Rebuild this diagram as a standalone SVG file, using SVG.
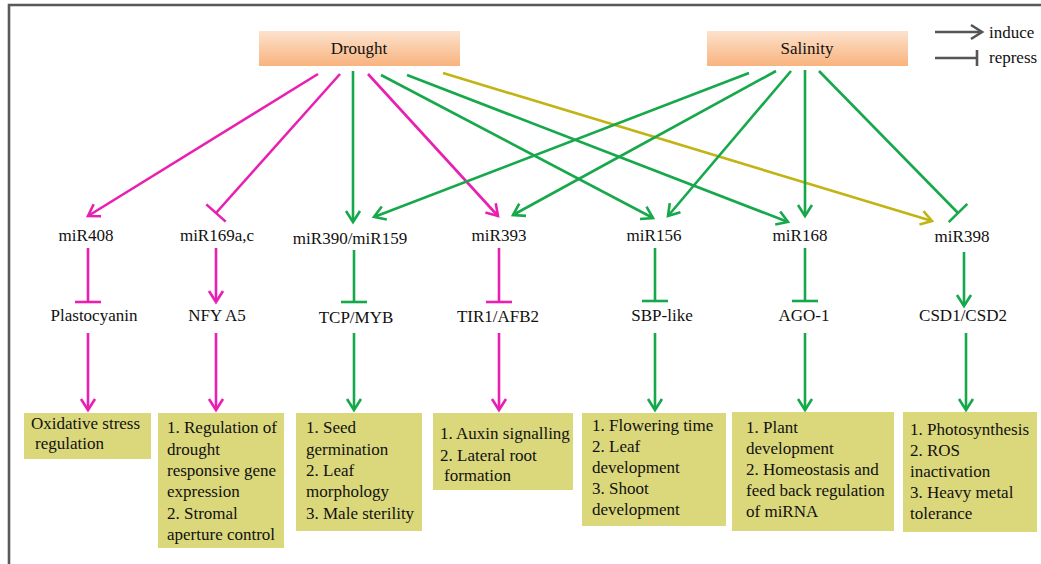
<svg xmlns="http://www.w3.org/2000/svg" width="1041" height="564" viewBox="0 0 1041 564">
<style>
text{font-family:"Liberation Serif","Times New Roman",serif;font-size:17px;fill:#111}
.lbl{text-anchor:middle}
.box{fill:#dbd87c}
.src{fill:url(#og)}
.mg{stroke:#e91fb2;stroke-width:2.6;fill:none}
.gr{stroke:#17a84b;stroke-width:2.6;fill:none}
.ol{stroke:#c1b414;stroke-width:2.6;fill:none}
.lg{stroke:#555;stroke-width:2.6;fill:none}
</style>
<defs>
<linearGradient id="og" x1="0" y1="0" x2="0" y2="1">
<stop offset="0" stop-color="#fde2cd"/>
<stop offset="1" stop-color="#f8b37e"/>
</linearGradient>
<marker id="amg" markerUnits="userSpaceOnUse" markerWidth="30" markerHeight="30" viewBox="-15 -15 30 30" refX="0" refY="0" orient="auto"><path d="M-11,-7 L0,0 L-11,7" fill="none" stroke="#e91fb2" stroke-width="2.6"/></marker>
<marker id="agr" markerUnits="userSpaceOnUse" markerWidth="30" markerHeight="30" viewBox="-15 -15 30 30" refX="0" refY="0" orient="auto"><path d="M-11,-7 L0,0 L-11,7" fill="none" stroke="#17a84b" stroke-width="2.6"/></marker>
<marker id="aol" markerUnits="userSpaceOnUse" markerWidth="30" markerHeight="30" viewBox="-15 -15 30 30" refX="0" refY="0" orient="auto"><path d="M-11,-7 L0,0 L-11,7" fill="none" stroke="#c1b414" stroke-width="2.6"/></marker>
<marker id="alg" markerUnits="userSpaceOnUse" markerWidth="30" markerHeight="30" viewBox="-15 -15 30 30" refX="0" refY="0" orient="auto"><path d="M-11,-7 L0,0 L-11,7" fill="none" stroke="#555" stroke-width="2.6"/></marker>
<marker id="bmg" markerUnits="userSpaceOnUse" markerWidth="30" markerHeight="30" viewBox="-15 -15 30 30" refX="0" refY="0" orient="auto"><path d="M0,-13 L0,13" stroke="#e91fb2" stroke-width="2.6"/></marker>
<marker id="bgr" markerUnits="userSpaceOnUse" markerWidth="30" markerHeight="30" viewBox="-15 -15 30 30" refX="0" refY="0" orient="auto"><path d="M0,-13 L0,13" stroke="#17a84b" stroke-width="2.6"/></marker>
<marker id="blg" markerUnits="userSpaceOnUse" markerWidth="30" markerHeight="30" viewBox="-15 -15 30 30" refX="0" refY="0" orient="auto"><path d="M0,-8 L0,8" stroke="#555" stroke-width="2.6"/></marker>
</defs>
<rect width="1041" height="564" fill="#fff"/>
<path d="M9,564 L9,5 L1041,5" fill="none" stroke="#595959" stroke-width="2.6"/>

<g id="legend">
<path class="lg" d="M935,32 L982,32" marker-end="url(#alg)"/>
<path class="lg" d="M935,58 L977,58" marker-end="url(#blg)"/>
<text x="989" y="38">induce</text>
<text x="989" y="63">repress</text>
</g>

<g id="connectors">
<path class="mg" d="M318,74 L88,216" marker-end="url(#amg)"/>
<path class="mg" d="M340,74 L216,213" marker-end="url(#bmg)"/>
<path class="gr" d="M353,71 L353,222" marker-end="url(#agr)"/>
<path class="mg" d="M368,74 L498,216" marker-end="url(#amg)"/>
<path class="gr" d="M381,75 L653,218" marker-end="url(#agr)"/>
<path class="gr" d="M407,75 L788,222" marker-end="url(#agr)"/>
<path class="ol" d="M443,73 L932,221" marker-end="url(#aol)"/>
<path class="gr" d="M749,73 L374,217" marker-end="url(#agr)"/>
<path class="gr" d="M776,71 L513,215" marker-end="url(#agr)"/>
<path class="gr" d="M791,71 L668,216" marker-end="url(#agr)"/>
<path class="gr" d="M805,70 L805,216" marker-end="url(#agr)"/>
<path class="gr" d="M819,71 L958,213" marker-end="url(#bgr)"/>

<path class="mg" d="M88,248 L88,302" marker-end="url(#bmg)"/>
<path class="mg" d="M216,248 L216,302" marker-end="url(#amg)"/>
<path class="gr" d="M354,250 L354,302" marker-end="url(#bgr)"/>
<path class="mg" d="M499,248 L499,302" marker-end="url(#bmg)"/>
<path class="gr" d="M655,248 L655,301" marker-end="url(#bgr)"/>
<path class="gr" d="M805,248 L805,301" marker-end="url(#bgr)"/>
<path class="gr" d="M964,252 L964,306" marker-end="url(#agr)"/>

<path class="mg" d="M88,333 L88,410" marker-end="url(#amg)"/>
<path class="mg" d="M216,333 L216,410" marker-end="url(#amg)"/>
<path class="gr" d="M354,333 L354,410" marker-end="url(#agr)"/>
<path class="mg" d="M499,333 L499,410" marker-end="url(#amg)"/>
<path class="gr" d="M655,333 L655,410" marker-end="url(#agr)"/>
<path class="gr" d="M805,333 L805,410" marker-end="url(#agr)"/>
<path class="gr" d="M966,333 L966,410" marker-end="url(#agr)"/>
</g>

<g id="drought"><rect class="src" x="259" y="31" width="201" height="35"/><text class="lbl" x="359" y="54">Drought</text></g>
<g id="salinity"><rect class="src" x="707" y="31" width="201" height="35"/><text class="lbl" x="807" y="54">Salinity</text></g>

<g id="mir408"><text class="lbl" x="86" y="241">miR408</text></g>
<g id="mir169"><text class="lbl" x="217" y="241">miR169a,c</text></g>
<g id="mir390"><text class="lbl" x="350" y="244">miR390/miR159</text></g>
<g id="mir393"><text class="lbl" x="499" y="241">miR393</text></g>
<g id="mir156"><text class="lbl" x="654" y="241">miR156</text></g>
<g id="mir168"><text class="lbl" x="800" y="241">miR168</text></g>
<g id="mir398"><text class="lbl" x="962" y="242">miR398</text></g>

<g id="plastocyanin"><text class="lbl" x="94" y="321">Plastocyanin</text></g>
<g id="nfya5"><text class="lbl" x="217" y="321">NFY A5</text></g>
<g id="tcpmyb"><text class="lbl" x="356" y="323">TCP/MYB</text></g>
<g id="tir1"><text class="lbl" x="498" y="322">TIR1/AFB2</text></g>
<g id="sbp"><text class="lbl" x="662" y="321">SBP-like</text></g>
<g id="ago1"><text class="lbl" x="804" y="321">AGO-1</text></g>
<g id="csd"><text class="lbl" x="963" y="321">CSD1/CSD2</text></g>

<g id="box1"><rect class="box" x="24" y="413" width="127" height="46"/>
<text x="31" y="429">Oxidative stress</text><text x="35" y="449">regulation</text></g>
<g id="box2"><rect class="box" x="158" y="413" width="126" height="135"/>
<text x="167" y="433">1. Regulation of</text><text x="167" y="455">drought</text><text x="167" y="476">responsive gene</text><text x="167" y="497">expression</text><text x="167" y="519">2. Stromal</text><text x="167" y="540">aperture control</text></g>
<g id="box3"><rect class="box" x="296" y="413" width="126" height="118"/>
<text x="306" y="433">1. Seed</text><text x="306" y="455">germination</text><text x="306" y="476">2. Leaf</text><text x="306" y="497">morphology</text><text x="306" y="519">3. Male sterility</text></g>
<g id="box4"><rect class="box" x="433" y="413" width="140" height="77"/>
<text x="440" y="439">1. Auxin signalling</text><text x="440" y="461">2. Lateral root</text><text x="444" y="481">formation</text></g>
<g id="box5"><rect class="box" x="582" y="413" width="144" height="113"/>
<text x="592" y="431">1. Flowering time</text><text x="592" y="452">2. Leaf</text><text x="592" y="473">development</text><text x="592" y="494">3. Shoot</text><text x="592" y="515">development</text></g>
<g id="box6"><rect class="box" x="732" y="412" width="162" height="119"/>
<text x="746" y="433">1. Plant</text><text x="746" y="454">development</text><text x="746" y="475">2. Homeostasis and</text><text x="746" y="496">feed back regulation</text><text x="746" y="517">of miRNA</text></g>
<g id="box7"><rect class="box" x="903" y="412" width="134" height="120"/>
<text x="910" y="435">1. Photosynthesis</text><text x="910" y="456">2. ROS</text><text x="910" y="477">inactivation</text><text x="910" y="498">3. Heavy metal</text><text x="910" y="519">tolerance</text></g>
</svg>
